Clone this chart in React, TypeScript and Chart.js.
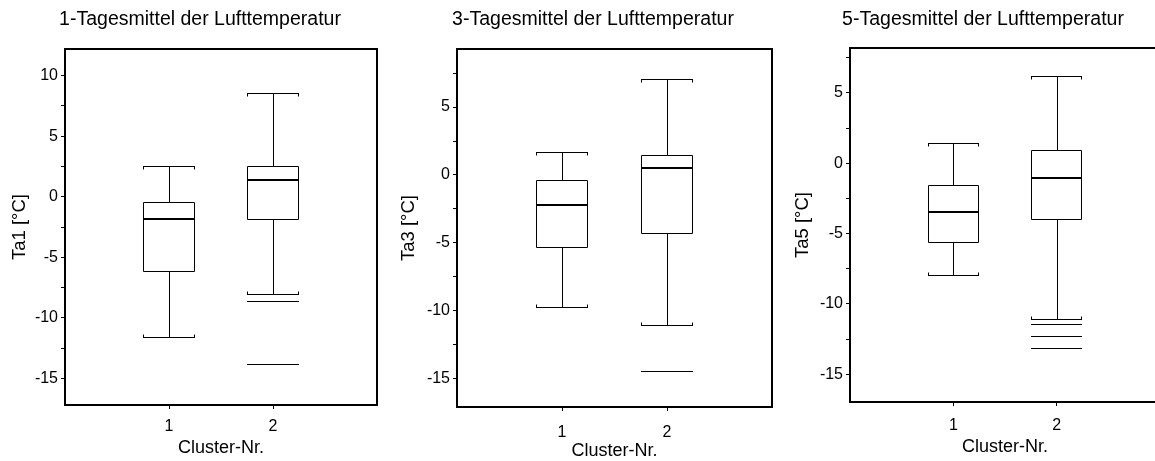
import React, { useEffect, useRef } from 'react';
import { Chart, registerables } from 'chart.js';

Chart.register(...registerables);

// ---------- data ----------
const clusters = [1, 2];
const xTickValues = [1, 2];

const ta1Title = '1-Tagesmittel der Lufttemperatur';
const ta1Axis = 'Ta1 [°C]';
const ta1Low = [-11.6, -8.05];
const ta1Q1 = [-6.1, -1.8];
const ta1Median = [-1.8, 1.38];
const ta1Q3 = [-0.45, 2.5];
const ta1High = [2.55, 8.55];
const ta1Outliers = [[], [-8.65, -13.85]];
const ta1Range = [-17.2, 12.2];
const ta1Ticks = [-15, -12.5, -10, -7.5, -5, -2.5, 0, 2.5, 5, 7.5, 10];

const ta3Title = '3-Tagesmittel der Lufttemperatur';
const ta3Axis = 'Ta3 [°C]';
const ta3Low = [-9.7, -11.08];
const ta3Q1 = [-5.3, -4.3];
const ta3Median = [-2.2, 0.5];
const ta3Q3 = [-0.35, 1.5];
const ta3High = [1.72, 7.05];
const ta3Outliers = [[], [-14.42]];
const ta3Range = [-17.1, 9.28];
const ta3Ticks = [-15, -12.5, -10, -7.5, -5, -2.5, 0, 2.5, 5, 7.5];

const ta5Title = '5-Tagesmittel der Lufttemperatur';
const ta5Axis = 'Ta5 [°C]';
const ta5Low = [-7.95, -11.05];
const ta5Q1 = [-5.58, -3.99];
const ta5Median = [-3.46, -1.04];
const ta5Q3 = [-1.54, 0.92];
const ta5High = [1.42, 6.22];
const ta5Outliers = [[], [-11.42, -12.28, -13.12]];
const ta5Range = [-16.97, 8.19];
const ta5Ticks = [-15, -12.5, -10, -7.5, -5, -2.5, 0, 2.5, 5, 7.5];

const xAxisTitle = 'Cluster-Nr.';

// ---------- layout (styles only) ----------
const FONT = "'Liberation Sans', Arial, Helvetica, sans-serif";
const H = 461;
const TITLE_SIZE = 19.5;
const AXIS_TITLE_SIZE = 18;
const Y_TITLE_SIZE = 18.5;
const TICK_SIZE = 16;

const boxPlugin = {
  id: 'boxExtras',
  afterDatasetsDraw(chart: any, _args: any, opts: any) {
    const { ctx } = chart;
    const xs = chart.scales.x;
    const ys = chart.scales.y;
    const meta = chart.getDatasetMeta(0);
    const py = (v: number) => Math.round(ys.getPixelForValue(v)) + 0.5;
    ctx.save();
    ctx.strokeStyle = '#000';
    opts.clusters.forEach((c: number, i: number) => {
      const bar = meta.data[i];
      const cx = Math.round(xs.getPixelForValue(c)) + 0.5;
      const half = bar.width / 2;
      const left = Math.round(bar.x - half) + 0.5;
      const right = Math.round(bar.x + half) - 0.5;
      const hy = py(opts.high[i]);
      const ly = py(opts.low[i]);
      const q3y = py(opts.q3[i]);
      const q1y = py(opts.q1[i]);
      ctx.lineWidth = 1;
      ctx.beginPath();
      // box outline
      ctx.rect(left, q3y, right - left, q1y - q3y);
      // whiskers
      ctx.moveTo(cx, q3y);
      ctx.lineTo(cx, hy);
      ctx.moveTo(cx, q1y);
      ctx.lineTo(cx, ly);
      // caps
      ctx.moveTo(left - 0.5, hy);
      ctx.lineTo(right + 0.5, hy);
      ctx.moveTo(left, hy);
      ctx.lineTo(left, hy + 3);
      ctx.moveTo(right, hy);
      ctx.lineTo(right, hy + 3);
      ctx.moveTo(left - 0.5, ly);
      ctx.lineTo(right + 0.5, ly);
      ctx.moveTo(left, ly);
      ctx.lineTo(left, ly - 3);
      ctx.moveTo(right, ly);
      ctx.lineTo(right, ly - 3);
      // outliers
      (opts.outliers[i] || []).forEach((v: number) => {
        const oy = py(v);
        ctx.moveTo(left - 0.5, oy);
        ctx.lineTo(right + 0.5, oy);
      });
      ctx.stroke();
      // median
      ctx.lineWidth = 2;
      const my = Math.round(ys.getPixelForValue(opts.median[i]));
      ctx.beginPath();
      ctx.moveTo(left - 0.5, my);
      ctx.lineTo(right + 0.5, my);
      ctx.stroke();
    });
    ctx.restore();
  },
  afterDraw(chart: any) {
    const { ctx, chartArea } = chart;
    ctx.save();
    ctx.strokeStyle = '#000';
    ctx.lineWidth = 2;
    ctx.strokeRect(
      Math.round(chartArea.left),
      Math.round(chartArea.top),
      Math.round(chartArea.right - chartArea.left),
      Math.round(chartArea.bottom - chartArea.top)
    );
    ctx.restore();
  },
};

type PanelProps = {
  title: string;
  axis: string;
  low: number[];
  q1: number[];
  median: number[];
  q3: number[];
  high: number[];
  outliers: number[][];
  range: number[];
  ticks: number[];
  left: number;
  width: number;
  yAxisWidth: number;
  padRight: number;
  top: number;
  bottom: number;
  yTitlePad: number;
  xTitlePad: number;
  xTickPad: number;
};

function Panel(p: PanelProps) {
  const ref = useRef<HTMLCanvasElement>(null);
  useEffect(() => {
    const titleTopPad = 7.5;
    const titleBottomPad = p.top - titleTopPad - TITLE_SIZE * 1.2;
    const chart = new Chart(ref.current as HTMLCanvasElement, {
      type: 'bar',
      data: {
        datasets: [
          {
            data: clusters.map((c, i) => ({ x: c, y: [p.q1[i], p.q3[i]] })) as any,
            backgroundColor: '#ffffff',
            borderColor: '#ffffff',
            borderWidth: 0,
            borderSkipped: false,
            barPercentage: 0.5,
            categoryPercentage: 1,
          } as any,
        ],
      },
      plugins: [boxPlugin as any],
      options: {
        animation: false,
        responsive: false,
        events: [],
        layout: { padding: 0 },
        plugins: {
          legend: { display: false },
          tooltip: { enabled: false },
          title: {
            display: true,
            text: p.title,
            color: '#000',
            font: { family: FONT, size: TITLE_SIZE, weight: 'normal' },
            padding: { top: titleTopPad, bottom: titleBottomPad },
          },
          boxExtras: {
            clusters,
            low: p.low,
            q1: p.q1,
            median: p.median,
            q3: p.q3,
            high: p.high,
            outliers: p.outliers,
          },
        } as any,
        scales: {
          x: {
            type: 'linear',
            min: 0,
            max: 3,
            offset: false,
            afterBuildTicks: (s: any) => {
              s.ticks = xTickValues.map((v) => ({ value: v }));
            },
            afterFit: (s: any) => {
              s.height = H - p.bottom;
            },
            grid: { offset: false, drawOnChartArea: false, drawTicks: true, tickLength: 4, color: '#000' },
            border: { display: false },
            ticks: {
              color: '#000',
              font: { family: FONT, size: TICK_SIZE },
              padding: p.xTickPad,
              autoSkip: false,
              maxRotation: 0,
              callback: (v: any) => String(v),
            },
            title: {
              display: true,
              text: xAxisTitle,
              color: '#000',
              font: { family: FONT, size: AXIS_TITLE_SIZE },
              padding: { top: 0, bottom: p.xTitlePad },
            },
          },
          y: {
            type: 'linear',
            position: 'left',
            min: p.range[0],
            max: p.range[1],
            afterBuildTicks: (s: any) => {
              s.ticks = p.ticks.map((v) => ({ value: v }));
            },
            afterFit: (s: any) => {
              s.width = p.yAxisWidth;
            },
            grid: { drawOnChartArea: false, drawTicks: true, tickLength: 4, color: '#000' },
            border: { display: false },
            ticks: {
              color: '#000',
              font: { family: FONT, size: TICK_SIZE },
              padding: 3,
              autoSkip: false,
              callback: (v: any) => (Number(v) % 5 === 0 ? String(v) : ''),
            },
            title: {
              display: true,
              text: p.axis,
              color: '#000',
              font: { family: FONT, size: Y_TITLE_SIZE },
              padding: { top: p.yTitlePad, bottom: 0 },
            },
          },
          yr: {
            type: 'linear',
            position: 'right',
            display: true,
            min: p.range[0],
            max: p.range[1],
            grid: { display: false, drawTicks: false },
            border: { display: false },
            ticks: { display: false },
            title: { display: false },
            afterFit: (s: any) => {
              s.width = p.padRight;
            },
          },
        },
      } as any,
    });
    return () => chart.destroy();
  }, []);
  return (
    <canvas
      ref={ref}
      width={p.width}
      height={H}
      style={{ position: 'absolute', left: p.left, top: 0, width: p.width, height: H }}
    />
  );
}

export default function App() {
  return (
    <div
      style={{
        position: 'fixed',
        left: 0,
        top: 0,
        width: 1155,
        height: H,
        overflow: 'hidden',
        background: '#fff',
      }}
    >
      <Panel
        title={ta1Title}
        axis={ta1Axis}
        low={ta1Low}
        q1={ta1Q1}
        median={ta1Median}
        q3={ta1Q3}
        high={ta1High}
        outliers={ta1Outliers}
        range={ta1Range}
        ticks={ta1Ticks}
        left={0}
        width={400}
        yAxisWidth={65}
        padRight={23}
        top={49}
        bottom={405}
        yTitlePad={9}
        xTitlePad={2.2}
        xTickPad={8}
      />
      <Panel
        title={ta3Title}
        axis={ta3Axis}
        low={ta3Low}
        q1={ta3Q1}
        median={ta3Median}
        q3={ta3Q3}
        high={ta3High}
        outliers={ta3Outliers}
        range={ta3Range}
        ticks={ta3Ticks}
        left={386}
        width={414}
        yAxisWidth={71}
        padRight={28}
        top={49}
        bottom={407}
        yTitlePad={12}
        xTitlePad={-0.8}
        xTickPad={12}
      />
      <Panel
        title={ta5Title}
        axis={ta5Axis}
        low={ta5Low}
        q1={ta5Q1}
        median={ta5Median}
        q3={ta5Q3}
        high={ta5High}
        outliers={ta5Outliers}
        range={ta5Range}
        ticks={ta5Ticks}
        left={790}
        width={386}
        yAxisWidth={60}
        padRight={16}
        top={48}
        bottom={402}
        yTitlePad={2}
        xTitlePad={3.2}
        xTickPad={10}
      />
    </div>
  );
}
